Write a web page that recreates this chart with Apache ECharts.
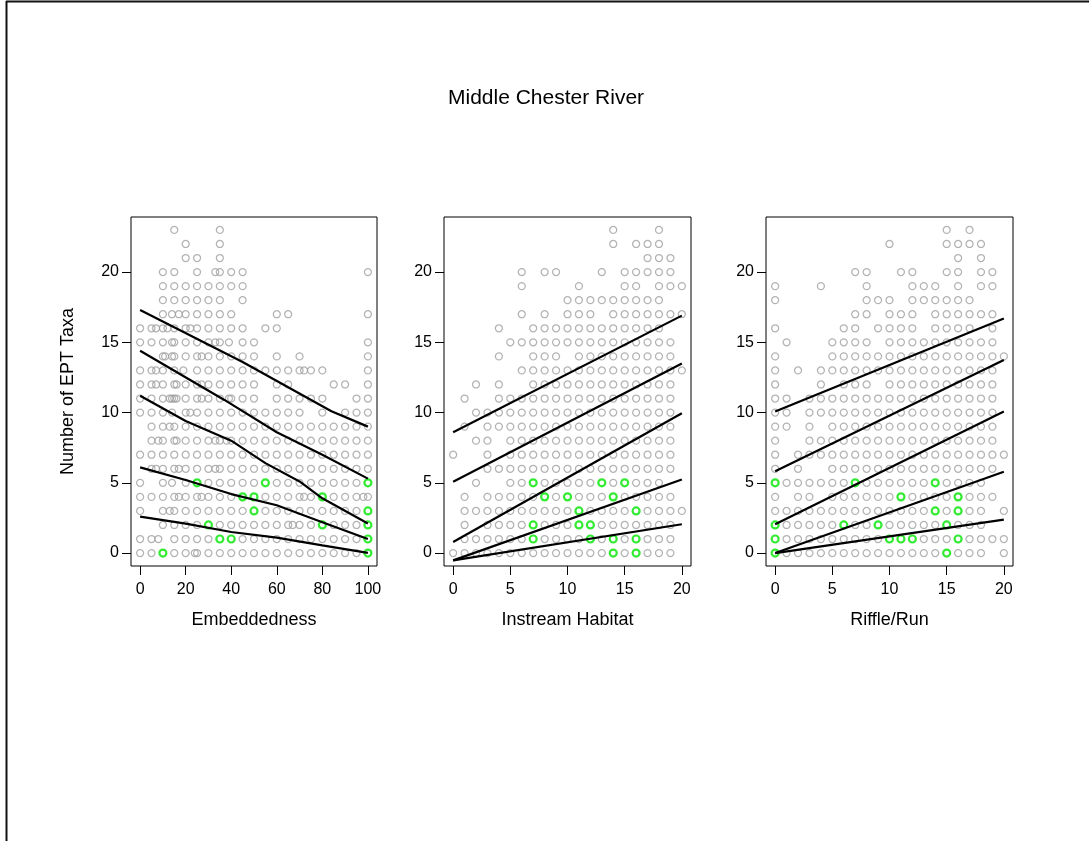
<!DOCTYPE html>
<html>
<head>
<meta charset="utf-8">
<script src="https://cdn.jsdelivr.net/npm/echarts@6/dist/echarts.min.js"></script>
<style>
html,body{margin:0;padding:0;background:#fff;}
#chart{width:1089px;height:841px;}
</style>
</head>
<body>
<div id="chart"></div>
<script>
// ---------- DATA ----------
const chartTitle = "Middle Chester River";
const yAxisTitle = "Number of EPT Taxa";
const panelTitles = ["Embeddedness", "Instream Habitat", "Riffle/Run"];
const yTicks = [0, 5, 10, 15, 20];
const embTicks = [0, 20, 40, 60, 80, 100];
const habTicks = [0, 5, 10, 15, 20];
const rifTicks = [0, 5, 10, 15, 20];

// grey points: row index = number of EPT taxa (0..23), values = x positions
const embRows = [
  [0,5,15,20,24,25,30,35,40,45,50,55,60,65,70,75,80,85,90,95],
  [0,5,8,15,20,25,30,45,50,55,60,65,70,75,80,85,90,95],
  [10,15,20,25,35,40,45,50,55,60,65,67,70,75,85,90,95],
  [0,10,13,15,20,25,30,35,40,45,55,60,65,70,75,80,85,90,95],
  [0,5,10,15,17,20,25,27,30,35,40,55,60,65,70,72,75,85,90,95,98,100],
  [0,10,14,20,30,35,40,45,50,60,65,70,75,80,85,90,95],
  [5,7,10,15,17,20,25,30,33,35,40,45,50,55,60,65,70,75,80,85,90,95,100],
  [0,5,10,15,20,25,30,35,40,45,50,55,60,65,70,75,80,85,90,95,100],
  [5,8,10,15,16,20,25,30,33,35,38,40,45,50,55,60,65,70,75,80,85,90,95,100],
  [5,10,13,15,20,25,30,35,40,45,50,55,60,65,70,75,80,85,90,95,100],
  [0,5,10,14,20,22,25,30,35,40,45,50,55,60,65,70,80,90,95,100],
  [0,5,10,13,14,15,16,20,25,27,30,35,39,40,45,50,60,65,70,75,80,95,100],
  [0,5,7,10,15,16,20,25,27,30,35,40,45,50,60,65,85,90,100],
  [0,5,7,10,15,19,25,30,35,40,45,50,55,60,65,70,72,75,80,100],
  [10,11,14,15,20,25,27,30,35,40,45,50,60,70,100],
  [0,5,10,14,15,20,25,30,33,35,39,45,50,100],
  [0,5,7,10,12,15,20,22,25,30,35,40,45,55,60],
  [10,14,17,20,25,30,35,40,60,65,100],
  [10,15,20,25,30,35,45],
  [10,15,20,25,30,35,40,45],
  [10,15,25,33,35,40,45,100],
  [20,25,35],
  [20,35],
  [15,35]
];
const embGreenX = [25,55,100,45,50,80,50,100,30,80,100,35,40,100,10,100];
const embGreenY = [5,5,5,4,4,4,3,3,2,2,2,1,1,1,0,0];

const habRows = [
  [0,1,2,3,4,5,6,7,8,9,10,11,12,13,15,17,18,19],
  [1,2,3,4,5,6,8,9,10,11,13,15,17,18,19],
  [1,3,4,5,6,8,9,10,13,14,15,16,17,18,19],
  [1,2,3,4,5,6,7,8,9,10,12,13,14,15,17,18,19,20],
  [1,3,4,5,6,7,9,11,12,13,15,16,17,18,19],
  [2,5,6,8,9,10,11,12,14,16,17,18],
  [3,4,5,6,7,8,9,10,11,12,13,14,15,16,17,18,19],
  [0,3,5,6,7,8,9,10,11,12,13,14,15,16,17,18,19],
  [2,3,5,6,7,8,9,10,11,12,13,14,15,16,17,18,19],
  [1,3,4,5,6,7,8,9,10,11,12,13,14,15,16,17,18,19],
  [2,3,4,5,6,7,8,9,10,11,12,13,14,15,16,17,18,19],
  [1,4,5,6,7,8,9,10,11,12,13,14,15,16,17,18,19],
  [2,4,7,8,9,10,11,12,13,14,15,16,17,18,19],
  [6,7,8,9,10,11,12,13,14,15,16,17,18,19,20],
  [4,7,8,9,11,12,13,14,15,16,17,18,19],
  [5,6,7,8,9,10,11,12,13,14,15,16,17,18,19],
  [4,7,8,9,10,11,12,13,14,15,16,17,18],
  [6,8,10,11,12,14,15,16,17,18,19,20],
  [10,11,12,13,14,15,16,17,18],
  [6,11,15,16,18,19,20],
  [6,8,9,13,15,16,17,18,19],
  [17,18,19],
  [14,16,17,18],
  [14,18]
];
const habGreenX = [7,13,15,8,10,14,11,16,7,11,12,7,12,14,16,14,16];
const habGreenY = [5,5,5,4,4,4,3,3,2,2,2,1,1,1,1,0,0];

const rifRows = [
  [1,2,3,4,5,6,7,8,9,10,11,12,13,14,16,17,18,20],
  [1,2,3,4,5,6,7,8,9,13,14,15,17,18,19,20],
  [1,2,3,4,5,7,8,10,11,12,13,14,16,17,18],
  [0,1,2,3,4,5,6,7,8,9,10,11,12,13,15,17,18,20],
  [0,2,3,5,6,7,8,9,10,12,13,14,15,17,18,19],
  [1,2,3,4,5,6,8,9,10,11,12,13,15,16,17,18],
  [0,2,5,6,7,8,9,10,11,12,13,14,15,16,17,18,19],
  [0,2,3,4,5,6,7,8,9,10,11,12,13,14,15,16,17,18,19,20],
  [0,3,4,5,6,7,8,9,10,11,12,13,14,15,16,17,18,19],
  [0,1,3,5,6,7,8,9,10,11,12,13,14,15,16,17,18,19],
  [0,1,3,4,5,6,7,8,9,10,11,12,13,14,15,16,17,18,19],
  [0,1,3,4,5,6,7,8,9,10,11,12,13,14,15,16,17,18,19],
  [0,4,6,7,8,10,11,12,13,14,15,16,17,18,19],
  [0,2,4,5,6,7,8,9,10,11,12,13,14,15,16,17,18,19],
  [0,5,6,7,8,9,10,11,12,13,14,15,16,17,18,19,20],
  [1,5,6,7,8,10,11,12,13,14,15,16,17,18,19],
  [0,6,7,9,10,11,12,14,15,16,17,19],
  [7,8,10,11,12,14,15,16,17,18,19],
  [0,8,9,10,12,13,14,15,16,17],
  [0,4,8,12,13,14,16,18,19],
  [7,8,11,12,15,16,18,19],
  [16,18],
  [10,15,16,17,18],
  [15,17]
];
const rifGreenX = [0,7,14,11,16,14,16,0,6,9,15,0,10,11,12,16,0,15];
const rifGreenY = [5,5,5,4,4,3,3,2,2,2,2,1,1,1,1,1,0,0];

// quantile regression lines: [x, y]
const embLine1 = [[0,17.3],[45,13.6],[84,10.1],[100,9.0]];
const embLine2 = [[0,14.4],[37,10.9],[60,8.6],[80,7.0],[100,5.3]];
const embLine3 = [[0,11.2],[20,9.4],[40,8.0],[55,6.4],[70,5.1],[80,3.9],[100,2.1]];
const embLine4 = [[0,6.1],[20,5.2],[40,4.2],[60,3.4],[80,2.2],[100,1.0]];
const embLine5 = [[0,2.6],[20,2.1],[40,1.5],[60,1.1],[80,0.55],[100,0.02]];
const habLine1 = [[0,8.6],[20,16.9]];
const habLine2 = [[0,5.07],[20,13.5]];
const habLine3 = [[0,0.79],[20,9.95]];
const habLine4 = [[0,-0.52],[20,5.24]];
const habLine5 = [[0,-0.52],[20,2.05]];
const rifLine1 = [[0,10.07],[20,16.7]];
const rifLine2 = [[0,5.83],[20,13.75]];
const rifLine3 = [[0,2.05],[20,10.07]];
const rifLine4 = [[0,0],[20,5.79]];
const rifLine5 = [[0,0],[20,2.38]];

// ---------- CHART ----------
const FONT = "Liberation Sans, Arial, sans-serif";
const grids = [
  {left:131, top:217, width:246, height:349},
  {left:444, top:217, width:247, height:349},
  {left:766, top:217, width:247, height:349}
];
const xRanges = [[-4,104],[-0.8,20.8],[-0.8,20.8]];
const xTickSets = [embTicks, habTicks, rifTicks];
const rowSets = [embRows, habRows, rifRows];
const greenSets = [[embGreenX, embGreenY],[habGreenX, habGreenY],[rifGreenX, rifGreenY]];
const lineSets = [
  [embLine1, embLine2, embLine3, embLine4, embLine5],
  [habLine1, habLine2, habLine3, habLine4, habLine5],
  [rifLine1, rifLine2, rifLine3, rifLine4, rifLine5]
];

function rowsToPoints(rows){
  const pts = [];
  rows.forEach((xs, y) => xs.forEach(x => pts.push([x, y])));
  return pts;
}

const option = {
  animation: false,
  backgroundColor: '#fff',
  title: {
    text: chartTitle, left: 443, top: 83,
    textStyle: {fontFamily: FONT, fontSize: 21, fontWeight: 'normal', color: '#000'}
  },
  grid: grids.map(g => Object.assign({show:true, borderColor:'#000', borderWidth:1, backgroundColor:'transparent'}, g)),
  xAxis: grids.map((g, i) => ({
    type: 'value', gridIndex: i, min: xRanges[i][0], max: xRanges[i][1],
    name: panelTitles[i], nameLocation: 'middle', nameGap: 45,
    nameTextStyle: {fontFamily: FONT, fontSize: 18, color: '#000'},
    axisLine: {show: false, onZero: false}, splitLine: {show: false},
    axisTick: {show: true, inside: false, length: 9, customValues: xTickSets[i], lineStyle: {color: '#000', width: 1}},
    axisLabel: {show: true, margin: 16, customValues: xTickSets[i], fontFamily: FONT, fontSize: 16, color: '#000'}
  })),
  yAxis: grids.map((g, i) => ({
    type: 'value', gridIndex: i, min: -0.92, max: 23.92,
    name: i === 0 ? yAxisTitle : '', nameLocation: 'middle', nameGap: 54, nameRotate: 90,
    nameTextStyle: {fontFamily: FONT, fontSize: 18, color: '#000'},
    axisLine: {show: false, onZero: false}, splitLine: {show: false},
    axisTick: {show: true, inside: false, length: 9, customValues: yTicks, lineStyle: {color: '#000', width: 1}},
    axisLabel: {show: true, margin: 12, customValues: yTicks, fontFamily: FONT, fontSize: 16, color: '#000'}
  })),
  series: [],
  graphic: [
    {type: 'line', shape: {x1: 6, y1: 1.5, x2: 1089, y2: 1.5}, style: {stroke: '#111', lineWidth: 2}, silent: true},
    {type: 'line', shape: {x1: 6.5, y1: 1, x2: 6.5, y2: 841}, style: {stroke: '#111', lineWidth: 2}, silent: true}
  ]
};

for (let i = 0; i < 3; i++) {
  option.series.push({
    type: 'scatter', xAxisIndex: i, yAxisIndex: i, silent: true,
    symbol: 'circle', symbolSize: 7,
    itemStyle: {color: 'rgba(0,0,0,0)', borderColor: '#a0a0a0', borderWidth: 1.25},
    data: rowsToPoints(rowSets[i]), z: 2
  });
  const gx = greenSets[i][0], gy = greenSets[i][1];
  option.series.push({
    type: 'scatter', xAxisIndex: i, yAxisIndex: i, silent: true,
    symbol: 'circle', symbolSize: 7,
    itemStyle: {color: 'rgba(0,0,0,0)', borderColor: '#00e600', borderWidth: 2.2},
    data: gx.map((x, k) => [x, gy[k]]), z: 3
  });
  lineSets[i].forEach(ln => {
    option.series.push({
      type: 'line', xAxisIndex: i, yAxisIndex: i, silent: true,
      showSymbol: false, smooth: false,
      lineStyle: {color: '#000', width: 2.2},
      data: ln, z: 4
    });
  });
}

const chart = echarts.init(document.getElementById('chart'), null, {renderer: 'canvas'});
chart.setOption(option);
</script>
</body>
</html>
